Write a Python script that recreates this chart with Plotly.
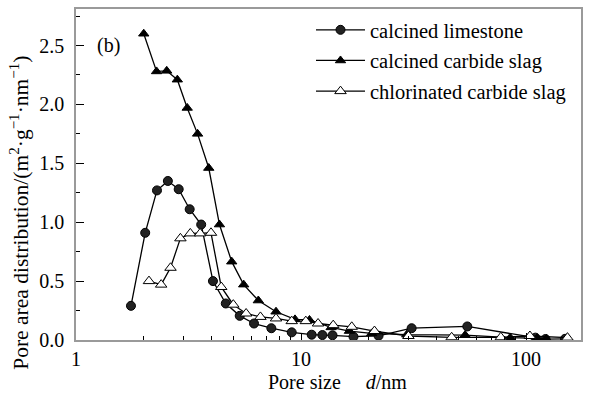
import plotly.graph_objects as go

# Pore size (nm) and pore area distribution (m2 g-1 nm-1) for each sorbent
limestone_d = [1.755, 2.03, 2.29, 2.56, 2.86, 3.2, 3.6, 4.06, 4.63, 5.34, 6.18, 7.38,
               9.09, 11.15, 12.44, 13.8, 17.1, 22.1, 31.0, 54.8, 110, 122, 149]
limestone_s = [0.29, 0.91, 1.27, 1.35, 1.28, 1.11, 0.98, 0.50, 0.31, 0.205, 0.14, 0.10,
               0.065, 0.045, 0.042, 0.04, 0.028, 0.036, 0.10, 0.115, 0.02, 0.008, 0.01]

carbide_d = [2.0, 2.28, 2.53, 2.82, 3.12, 3.47, 3.89, 4.34, 4.92, 5.56, 6.46, 7.74,
             9.4, 10.9, 13.6, 16.4, 20.6, 29.5, 53.6, 85, 112, 123]
carbide_s = [2.6, 2.28, 2.285, 2.21, 1.97, 1.75, 1.46, 0.98, 0.665, 0.47, 0.335, 0.24,
             0.175, 0.17, 0.107, 0.076, 0.056, 0.045, 0.042, 0.02, 0.015, 0.01]

chlorinated_d = [2.11, 2.39, 2.63, 2.91, 3.22, 3.56, 3.98, 4.42, 5.0, 5.7, 6.6, 7.74,
                 9.09, 10.5, 11.9, 13.9, 16.8, 21.2, 30.0, 46.7, 77.2, 104, 152.7]
chlorinated_s = [0.5, 0.47, 0.613, 0.863, 0.905, 0.905, 0.91, 0.45, 0.30, 0.225, 0.196, 0.183,
                 0.16, 0.16, 0.14, 0.126, 0.112, 0.076, 0.034, 0.023, 0.023, 0.034, 0.02]

x_ticks = [1, 10, 100]
x_tick_text = ["1", "10", "100"]
x_minor = [2, 3, 4, 5, 6, 7, 8, 9, 20, 30, 40, 50, 60, 70, 80, 90]
y_ticks = [0, 0.5, 1.0, 1.5, 2.0, 2.5]

FONT = "Liberation Serif, Times New Roman, serif"
W, H = 591, 396
ML, MR, MT, MB = 76, 10, 7, 56
PW, PH = W - ML - MR, H - MT - MB


def px_to_paper(px, py):
    """Pixel position in the page -> paper coordinates of the plot area."""
    return (px - ML) / PW, (H - MB - py) / PH


fig = go.Figure()

fig.add_trace(go.Scatter(
    x=limestone_d, y=limestone_s, mode="lines+markers", name="calcined limestone",
    legendgroup="a",
    line=dict(color="black", width=1.3),
    marker=dict(symbol="circle", size=9, color="#222222", line=dict(color="black", width=1)),
))
fig.add_trace(go.Scatter(
    x=carbide_d, y=carbide_s, mode="lines+markers", name="calcined carbide slag",
    legendgroup="b",
    line=dict(color="black", width=1.3),
    marker=dict(symbol="triangle-up", size=9, color="black", line=dict(color="black", width=1)),
))
fig.add_trace(go.Scatter(
    x=chlorinated_d, y=chlorinated_s, mode="lines+markers", name="chlorinated carbide slag",
    legendgroup="c",
    line=dict(color="black", width=1.3),
    marker=dict(symbol="triangle-up", size=10, color="white", line=dict(color="black", width=1)),
))

# panel label
fig.add_annotation(
    text="(b)", x=0.085, y=2.5, xref="x", yref="y", showarrow=False,
    xanchor="left", yanchor="middle", font=dict(family=FONT, size=20, color="black"),
)

# y-axis title as a rotated annotation
yx, yy = px_to_paper(20, 212)
fig.add_annotation(
    text="Pore area distribution/(m<sup>2</sup>·g<sup>−1</sup>·nm<sup>−1</sup>)",
    x=yx, y=yy, xref="paper", yref="paper", showarrow=False, textangle=-90,
    xanchor="center", yanchor="middle", font=dict(family=FONT, size=21.5, color="black"),
)

# x-axis title as an annotation
xx, xy = px_to_paper(337, 382)
fig.add_annotation(
    text="Pore size&nbsp;&nbsp;&nbsp;&nbsp;&nbsp;<i>d</i>/nm",
    x=xx, y=xy, xref="paper", yref="paper", showarrow=False,
    xanchor="center", yanchor="middle", font=dict(family=FONT, size=20, color="black"),
)

lx, ly = px_to_paper(311, 8)
fig.update_layout(
    width=W, height=H,
    margin=dict(l=ML, r=MR, t=MT, b=MB),
    paper_bgcolor="white", plot_bgcolor="white",
    font=dict(family=FONT, size=20, color="black"),
    showlegend=True,
    legend=dict(
        x=lx, y=ly, xanchor="left", yanchor="top",
        bgcolor="rgba(0,0,0,0)", font=dict(family=FONT, size=20.5),
        tracegroupgap=1, itemwidth=49,
    ),
)

fig.update_xaxes(
    type="log", range=[0, 2.244],
    tickvals=x_ticks, ticktext=x_tick_text,
    ticks="inside", ticklen=7, tickwidth=1, tickcolor="black",
    minor=dict(tickvals=x_minor, ticks="inside", ticklen=4, tickcolor="black", tickwidth=1),
    showline=True, linecolor="#9a9a9a", linewidth=1.5, mirror=True,
    showgrid=False, zeroline=False,
    tickfont=dict(family=FONT, size=20),
)

fig.update_yaxes(
    range=[0, 2.81],
    tickvals=y_ticks, tickformat=".1f",
    ticks="inside", ticklen=8, tickwidth=1, tickcolor="black",
    minor=dict(dtick=0.25, ticks="inside", ticklen=4, tickcolor="black", tickwidth=1),
    showline=True, linecolor="#9a9a9a", linewidth=1.5, mirror=True,
    showgrid=False, zeroline=False,
    tickfont=dict(family=FONT, size=20),
    ticklabelstandoff=6,
)

fig.write_html("out.html")
